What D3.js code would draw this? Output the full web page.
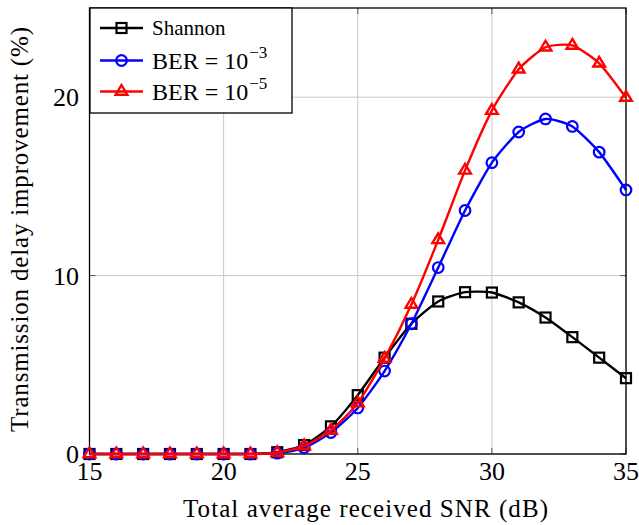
<!DOCTYPE html>
<html>
<head>
<meta charset="utf-8">
<script src="https://cdn.jsdelivr.net/npm/d3@7"></script>
</head>
<body style="margin:0; background:white">
<svg id="fig" width="639" height="525"></svg>
<script>
// Data
const snr = [15, 16, 17, 18, 19, 20, 21, 22, 23, 24, 25, 26, 27, 28, 29, 30, 31, 32, 33, 34, 35];
const shannon = [0, 0, 0, 0, 0, 0, 0, 0.1, 0.5, 1.55, 3.3, 5.4, 7.3, 8.55, 9.07, 9.05, 8.5, 7.65, 6.55, 5.4, 4.25];
const ber3 = [0, 0, 0, 0, 0, 0, 0, 0.05, 0.35, 1.2, 2.58, 4.65, 7.3, 10.45, 13.65, 16.33, 18.05, 18.78, 18.36, 16.92, 14.8];
const ber5 = [0, 0, 0, 0, 0, 0, 0, 0.07, 0.45, 1.32, 2.85, 5.35, 8.38, 12.0, 15.9, 19.25, 21.57, 22.8, 22.9, 21.9, 19.98];
const xTicks = [15, 20, 25, 30, 35];
const yTicks = [0, 10, 20];

const series = [
    { name: 'Shannon', exp: null, values: shannon, color: '#000000', marker: 'square' },
    { name: 'BER = 10', exp: '\u22123', values: ber3, color: '#0000ff', marker: 'circle' },
    { name: 'BER = 10', exp: '\u22125', values: ber5, color: '#ff0000', marker: 'triangle' }
];

// Layout
const svg = d3.select('#fig');
const x = d3.scaleLinear().domain([15, 35]).range([89.5, 626]);
const y = d3.scaleLinear().domain([0, 25]).range([454, 8]);

function label(sel) {
    return sel.append('text').style('font-family', '"Liberation Serif"');
}

// Grid
const grid = svg.append('g').attr('stroke', '#c8c8c8').attr('stroke-width', 1);
grid.selectAll('line.gx').data(xTicks).enter().append('line')
    .attr('x1', d => x(d)).attr('x2', d => x(d))
    .attr('y1', y(0)).attr('y2', y(25));
grid.selectAll('line.gy').data(yTicks).enter().append('line')
    .attr('y1', d => y(d)).attr('y2', d => y(d))
    .attr('x1', x(15)).attr('x2', x(35));

// Inner tick marks
const ticks = svg.append('g').attr('stroke', '#555').attr('stroke-width', 1);
xTicks.forEach(t => {
    ticks.append('line').attr('x1', x(t)).attr('x2', x(t)).attr('y1', y(0)).attr('y2', y(0) - 6);
    ticks.append('line').attr('x1', x(t)).attr('x2', x(t)).attr('y1', y(25)).attr('y2', y(25) + 6);
});
yTicks.forEach(t => {
    ticks.append('line').attr('y1', y(t)).attr('y2', y(t)).attr('x1', x(15)).attr('x2', x(15) + 6);
    ticks.append('line').attr('y1', y(t)).attr('y2', y(t)).attr('x1', x(35)).attr('x2', x(35) - 6);
});

// Frame
svg.append('rect')
    .attr('x', x(15)).attr('y', y(25))
    .attr('width', x(35) - x(15)).attr('height', y(0) - y(25))
    .attr('fill', 'none').attr('stroke', '#000').attr('stroke-width', 1.3);

// Tick labels
svg.append('g').selectAll('text').data(xTicks).enter().append('text')
    .style('font-family', '"Liberation Serif"')
    .attr('x', d => x(d)).attr('y', 480)
    .attr('text-anchor', 'middle').attr('font-size', 26)
    .text(d => d);
svg.append('g').selectAll('text').data(yTicks).enter().append('text')
    .style('font-family', '"Liberation Serif"')
    .attr('x', 79).attr('y', d => y(d) + 9)
    .attr('text-anchor', 'end').attr('font-size', 26)
    .text(d => d);

// Axis titles
label(svg)
    .attr('x', 365.5).attr('y', 517)
    .attr('text-anchor', 'middle').attr('font-size', 25)
    .attr('textLength', 365).attr('lengthAdjust', 'spacing')
    .text('Total average received SNR (dB)');
label(svg)
    .attr('transform', 'translate(28,229.5) rotate(-90)')
    .attr('text-anchor', 'middle').attr('font-size', 25)
    .attr('textLength', 405).attr('lengthAdjust', 'spacing')
    .text('Transmission delay improvement (%)');

// Markers
function drawMarker(g, type, color, cx, cy) {
    if (type === 'square') {
        g.append('rect').attr('x', cx - 5).attr('y', cy - 5).attr('width', 10).attr('height', 10)
            .attr('fill', 'none').attr('stroke', color).attr('stroke-width', 2.2);
    } else if (type === 'circle') {
        g.append('circle').attr('cx', cx).attr('cy', cy).attr('r', 5.3)
            .attr('fill', 'none').attr('stroke', color).attr('stroke-width', 2.2);
    } else {
        const s = 6.5;
        g.append('path')
            .attr('d', `M${cx},${cy - s} L${cx + s * 0.9},${cy + s * 0.5} L${cx - s * 0.9},${cy + s * 0.5} Z`)
            .attr('fill', 'none').attr('stroke', color).attr('stroke-width', 2.4).attr('stroke-linejoin', 'miter');
    }
}

// Lines
const line = d3.line()
    .x((d, i) => x(snr[i]))
    .y(d => y(d))
    .curve(d3.curveCardinal.tension(0.4));

const plot = svg.append('g');
series.forEach(s => {
    plot.append('path')
        .attr('d', line(s.values))
        .attr('fill', 'none').attr('stroke', s.color).attr('stroke-width', 2.4);
    const mg = plot.append('g');
    s.values.forEach((v, i) => drawMarker(mg, s.marker, s.color, x(snr[i]), y(v)));
});

// Legend
const legendRows = [28, 60.5, 91.5];
const legend = svg.append('g');
legend.append('rect')
    .attr('x', 90).attr('y', 8).attr('width', 202).attr('height', 105)
    .attr('fill', 'white').attr('stroke', '#000').attr('stroke-width', 1.3);
series.forEach((s, i) => {
    const ly = legendRows[i];
    legend.append('line').attr('x1', 100).attr('x2', 143).attr('y1', ly).attr('y2', ly)
        .attr('stroke', s.color).attr('stroke-width', 2.4);
    drawMarker(legend, s.marker, s.color, 121.5, ly);
    const t = label(legend).attr('x', 152);
    if (s.exp) {
        t.attr('y', ly + 8).attr('font-size', 24);
        t.append('tspan').text(s.name);
        t.append('tspan').attr('dx', 1).attr('dy', -11).attr('font-size', 17).text(s.exp);
    } else {
        t.attr('y', ly + 7).attr('font-size', 21).text(s.name);
    }
});
</script>
</body>
</html>
